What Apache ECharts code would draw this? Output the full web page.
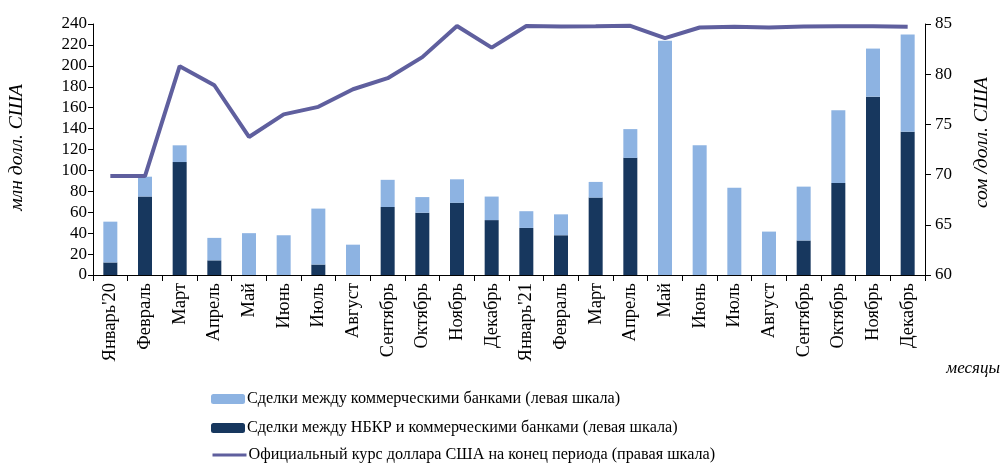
<!DOCTYPE html>
<html>
<head>
<meta charset="utf-8">
<script src="https://cdn.jsdelivr.net/npm/echarts@6/dist/echarts.min.js"></script>
<style>
  html, body { margin: 0; padding: 0; background: #fff; }
  #chart { width: 1003px; height: 464px; }
</style>
</head>
<body>
<div id="chart"></div>
<script>
const months = ["Январь'20", 'Февраль', 'Март', 'Апрель', 'Май', 'Июнь', 'Июль', 'Август', 'Сентябрь', 'Октябрь', 'Ноябрь', 'Декабрь',
  "Январь'21", 'Февраль', 'Март', 'Апрель', 'Май', 'Июнь', 'Июль', 'Август', 'Сентябрь', 'Октябрь', 'Ноябрь', 'Декабрь'];

// Сделки между НБКР и коммерческими банками (нижняя часть столбца)
const nbkrDeals = [12, 75, 108, 14, 0, 0, 10, 0, 65, 59.5, 69, 52.5,
  45, 38, 74, 112, 0, 0, 0, 0, 33, 88, 170.5, 137];
// высота всего столбца
const totalDeals = [51, 94, 124, 35.5, 40, 38, 63.5, 29, 91, 74.5, 91.5, 75,
  61, 58, 89, 139.5, 224, 124, 83.5, 41.5, 84.5, 157.5, 216.5, 230];
// Сделки между коммерческими банками = итог минус НБКР
const bankDeals = totalDeals.map((t, i) => +(t - nbkrDeals[i]).toFixed(1));

// Официальный курс доллара США на конец периода
const usdRate = [69.85, 69.85, 80.8, 78.9, 73.75, 76.0, 76.75, 78.5, 79.6, 81.7, 84.8, 82.65,
  84.8, 84.75, 84.78, 84.82, 83.6, 84.65, 84.72, 84.66, 84.75, 84.78, 84.78, 84.72];

const leftTicks = [0, 240, 20];
const rightTicks = [60, 85, 5];

const nameBank = 'Сделки между коммерческими банками (левая шкала)';
const nameNbkr = 'Сделки между НБКР и коммерческими банками (левая шкала)';
const nameRate = 'Официальный курс доллара США на конец периода (правая шкала)';

const font = 'Liberation Serif';
const chart = echarts.init(document.getElementById('chart'));

const legendBase = {
  orient: 'vertical',
  left: 206,
  itemWidth: 34,
  itemHeight: 10,
  itemGap: 0,
  selectedMode: false,
  textStyle: { fontFamily: font, fontSize: 16.2, color: '#000', padding: [0, 0, 0, -3] }
};

chart.setOption({
  animation: false,
  grid: { left: 93, right: 78, top: 24, bottom: 189 },
  legend: [
    Object.assign({}, legendBase, { top: 386, data: [nameBank] }),
    Object.assign({}, legendBase, { top: 415, data: [nameNbkr] }),
    Object.assign({}, legendBase, {
      top: 442,
      data: [{ name: nameRate, itemStyle: { opacity: 0 }, lineStyle: { width: 3 } }]
    })
  ],
  xAxis: {
    type: 'category',
    data: months,
    axisLine: { lineStyle: { color: '#000', width: 1 } },
    axisTick: { show: true, length: 6, lineStyle: { color: '#000' } },
    axisLabel: { rotate: 90, interval: 0, fontFamily: font, fontSize: 18.5, color: '#000', margin: 8 }
  },
  yAxis: [
    {
      type: 'value',
      min: leftTicks[0], max: leftTicks[1], interval: leftTicks[2],
      splitLine: { show: false },
      axisLine: { show: true, lineStyle: { color: '#000' } },
      axisTick: { show: true, length: 5, lineStyle: { color: '#000' } },
      axisLabel: { fontFamily: font, fontSize: 17, color: '#000', margin: 6 }
    },
    {
      type: 'value',
      min: rightTicks[0], max: rightTicks[1], interval: rightTicks[2],
      splitLine: { show: false },
      axisLine: { show: true, lineStyle: { color: '#000' } },
      axisTick: { show: true, length: 6, lineStyle: { color: '#000' } },
      axisLabel: { fontFamily: font, fontSize: 17, color: '#000', margin: 10 }
    }
  ],
  graphic: [
    { type: 'text', left: 7, top: 84, rotation: Math.PI / 2,
      style: { text: 'млн долл. США', font: 'italic 19.5px "Liberation Serif"', fill: '#000' } },
    { type: 'text', right: 11, top: 77, rotation: Math.PI / 2,
      style: { text: 'сом /долл. США', font: 'italic 19.5px "Liberation Serif"', fill: '#000' } },
    { type: 'text', right: 3, top: 360,
      style: { text: 'месяцы', font: 'italic 17px "Liberation Serif"', fill: '#000' } }
  ],
  series: [
    {
      name: nameNbkr, type: 'bar', stack: 'deals', data: nbkrDeals, barWidth: 14,
      itemStyle: { color: '#17375E' }
    },
    {
      name: nameBank, type: 'bar', stack: 'deals', data: bankDeals, barWidth: 14,
      itemStyle: { color: '#8DB3E2' }
    },
    {
      name: nameRate, type: 'line', yAxisIndex: 1, data: usdRate,
      symbol: 'none', lineStyle: { color: '#5F5F9E', width: 4 }, itemStyle: { color: '#5F5F9E' }
    }
  ]
});
</script>
</body>
</html>
